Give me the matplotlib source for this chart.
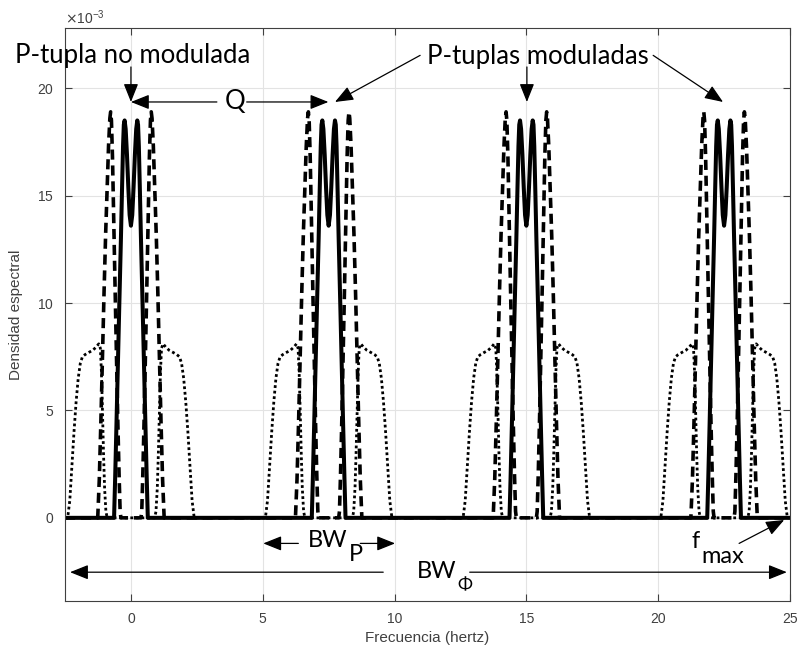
import matplotlib.pyplot as plt

# centros de cada P-tupla (Hz)
centros = [0, 7.5, 15, 22.5]

# forma de cada lobulo alrededor del centro (offset en Hz, densidad x1e-3)
solida_dx = [-0.64, -0.6, -0.55, -0.5, -0.44, -0.38, -0.34, -0.30, -0.27, -0.24, -0.2, -0.15, -0.1, -0.05,
             0.0, 0.05, 0.1, 0.15, 0.2, 0.24, 0.27, 0.30, 0.34, 0.38, 0.44, 0.5, 0.55, 0.6, 0.64]
solida_y = [0.0, 1.8, 4.3, 6.9, 10.0, 13.0, 15.2, 17.3, 18.3, 18.5, 18.1, 16.9, 15.4, 14.1,
            13.6, 14.1, 15.4, 16.9, 18.1, 18.5, 18.3, 17.3, 15.2, 13.0, 10.0, 6.9, 4.3, 1.8, 0.0]

guion_dx = [-1.26, -1.2, -1.14, -1.08, -1.02, -0.96, -0.9, -0.85, -0.8, -0.77, -0.74, -0.7, -0.65, -0.6,
            -0.55, -0.5, -0.45, -0.41, -0.38,
            0.38, 0.41, 0.45, 0.5, 0.55, 0.6, 0.65, 0.7, 0.74, 0.77, 0.8, 0.85, 0.9, 0.96, 1.02, 1.08, 1.14,
            1.2, 1.26]
guion_y = [0.0, 1.8, 4.5, 7.5, 10.5, 13.2, 15.5, 17.3, 18.6, 18.9, 18.5, 16.8, 13.8, 10.6,
           7.5, 4.6, 2.0, 0.3, 0.0,
           0.0, 0.3, 2.0, 4.6, 7.5, 10.6, 13.8, 16.8, 18.5, 18.9, 18.6, 17.3, 15.5, 13.2, 10.5, 7.5, 4.5,
           1.8, 0.0]

punto_dx = [-2.4, -2.32, -2.24, -2.16, -2.08, -2.0, -1.92, -1.84, -1.74, -1.6, -1.45, -1.32, -1.22, -1.16,
            -1.12, -1.08, -1.04, -1.0, -0.95, -0.9,
            0.9, 0.95, 1.0, 1.04, 1.08, 1.12, 1.16, 1.22, 1.32, 1.45, 1.6, 1.74, 1.84, 1.92, 2.0, 2.08,
            2.16, 2.24, 2.32, 2.4]
punto_y = [0.0, 0.8, 2.4, 4.0, 5.4, 6.5, 7.2, 7.5, 7.6, 7.7, 7.8, 7.95, 8.1, 7.9,
           6.8, 5.0, 3.0, 1.4, 0.3, 0.0,
           0.0, 0.3, 1.4, 3.0, 5.0, 6.8, 7.9, 8.1, 7.95, 7.8, 7.7, 7.6, 7.5, 7.2, 6.5, 5.4,
           4.0, 2.4, 0.8, 0.0]

x_min, x_max = -2.5, 25


def serie(dx, y):
    xs = [x_min]
    ys = [0.0]
    for c in centros:
        xs += [c + d for d in dx]
        ys += [v * 1e-3 for v in y]
    xs.append(x_max)
    ys.append(0.0)
    return xs, ys


fig = plt.figure(figsize=(7.97, 6.53), dpi=100)
ax = fig.add_axes([0.0816, 0.080, 0.9096, 0.877])

xs, ys = serie(punto_dx, punto_y)
ax.plot(xs, ys, color='black', lw=2.0, linestyle=(0, (1, 1.0)))
xs, ys = serie(guion_dx, guion_y)
ax.plot(xs, ys, color='black', lw=2.6, dashes=(2.8, 1.6))
xs, ys = serie(solida_dx, solida_y)
ax.plot(xs, ys, color='black', lw=2.9)

ax.set_xlim(x_min, x_max)
ax.set_ylim(-3.86e-3, 22.8e-3)
ax.set_xticks([0, 5, 10, 15, 20, 25])
ax.set_yticks([0, 0.005, 0.01, 0.015, 0.02])
ax.ticklabel_format(axis='y', style='sci', scilimits=(-3, -3), useMathText=True)
ax.grid(True, color='#e3e3e3', lw=0.8)
ax.set_axisbelow(True)
ax.tick_params(direction='in', top=True, right=True, length=5, width=0.8,
               colors='#404040', labelsize=10, pad=8)
for s in ax.spines.values():
    s.set_color('#404040')
    s.set_linewidth(0.8)
for lab in ax.get_xticklabels() + ax.get_yticklabels():
    lab.set_family('Liberation Sans')
ax.yaxis.get_offset_text().set_family('Liberation Sans')
ax.yaxis.get_offset_text().set_color('#404040')
ax.yaxis.get_offset_text().set_fontsize(10)

ax.set_xlabel('Frecuencia (hertz)', family='Liberation Sans', fontsize=11, color='#404040')
ax.set_ylabel('Densidad espectral', family='Liberation Sans', fontsize=11, color='#404040',
              labelpad=10)

fuente = dict(family='Lato', fontsize=18.5, color='black')
fuente_bw = dict(family=['Lato', 'DejaVu Sans'], fontsize=17, color='black')
flecha = dict(arrowstyle='-|>,head_length=0.7,head_width=0.28', color='black', lw=0.9,
              mutation_scale=16, shrinkA=0, shrinkB=0)


def flecha_a(punta, cola):
    ax.annotate('', xy=punta, xytext=cola, arrowprops=flecha, annotation_clip=False)


def con_subindice(x, y, base, sub, bajada, size_sub=17):
    t = ax.text(x, y, base, ha='left', va='baseline', **fuente_bw)
    ax.annotate(sub, xy=(1, 0), xycoords=t, xytext=(1, -bajada), textcoords='offset points',
                ha='left', va='baseline', family=['Lato', 'DejaVu Sans'], fontsize=size_sub,
                color='black')


# textos de arriba
ax.text(0.06, 21.16e-3, 'P-tupla no modulada', ha='center', va='baseline', **fuente)
flecha_a((0, 19.36e-3), (0, 20.99e-3))
ax.text(15.42, 21.15e-3, 'P-tuplas moduladas', ha='center', va='baseline', **fuente)
flecha_a((7.74, 19.36e-3), (10.97, 21.53e-3))
flecha_a((15.02, 19.36e-3), (15.02, 20.99e-3))
flecha_a((22.46, 19.36e-3), (19.81, 21.53e-3))

# Q
ax.text(3.95, 19.36e-3, 'Q', ha='center', va='center', **fuente)
flecha_a((0.0, 19.36e-3), (3.26, 19.36e-3))
flecha_a((7.49, 19.36e-3), (4.39, 19.36e-3))

# BW_P
con_subindice(6.72, -1.35e-3, 'BW', 'P', 7)
flecha_a((5.02, -1.19e-3), (6.35, -1.19e-3))
flecha_a((10.02, -1.19e-3), (8.7, -1.19e-3))

# BW_Phi
con_subindice(10.84, -2.82e-3, 'BW', 'Φ', 6, size_sub=13)
flecha_a((-2.31, -2.53e-3), (9.57, -2.53e-3))
flecha_a((24.88, -2.53e-3), (12.85, -2.53e-3))

# f_max
ax.text(21.27, -1.42e-3, 'f', ha='left', va='baseline', **fuente_bw)
ax.text(21.65, -2.11e-3, 'max', ha='left', va='baseline', **fuente_bw)
flecha_a((24.78, -0.1e-3), (23.07, -1.19e-3))

fig.savefig('out.png', dpi=100)
